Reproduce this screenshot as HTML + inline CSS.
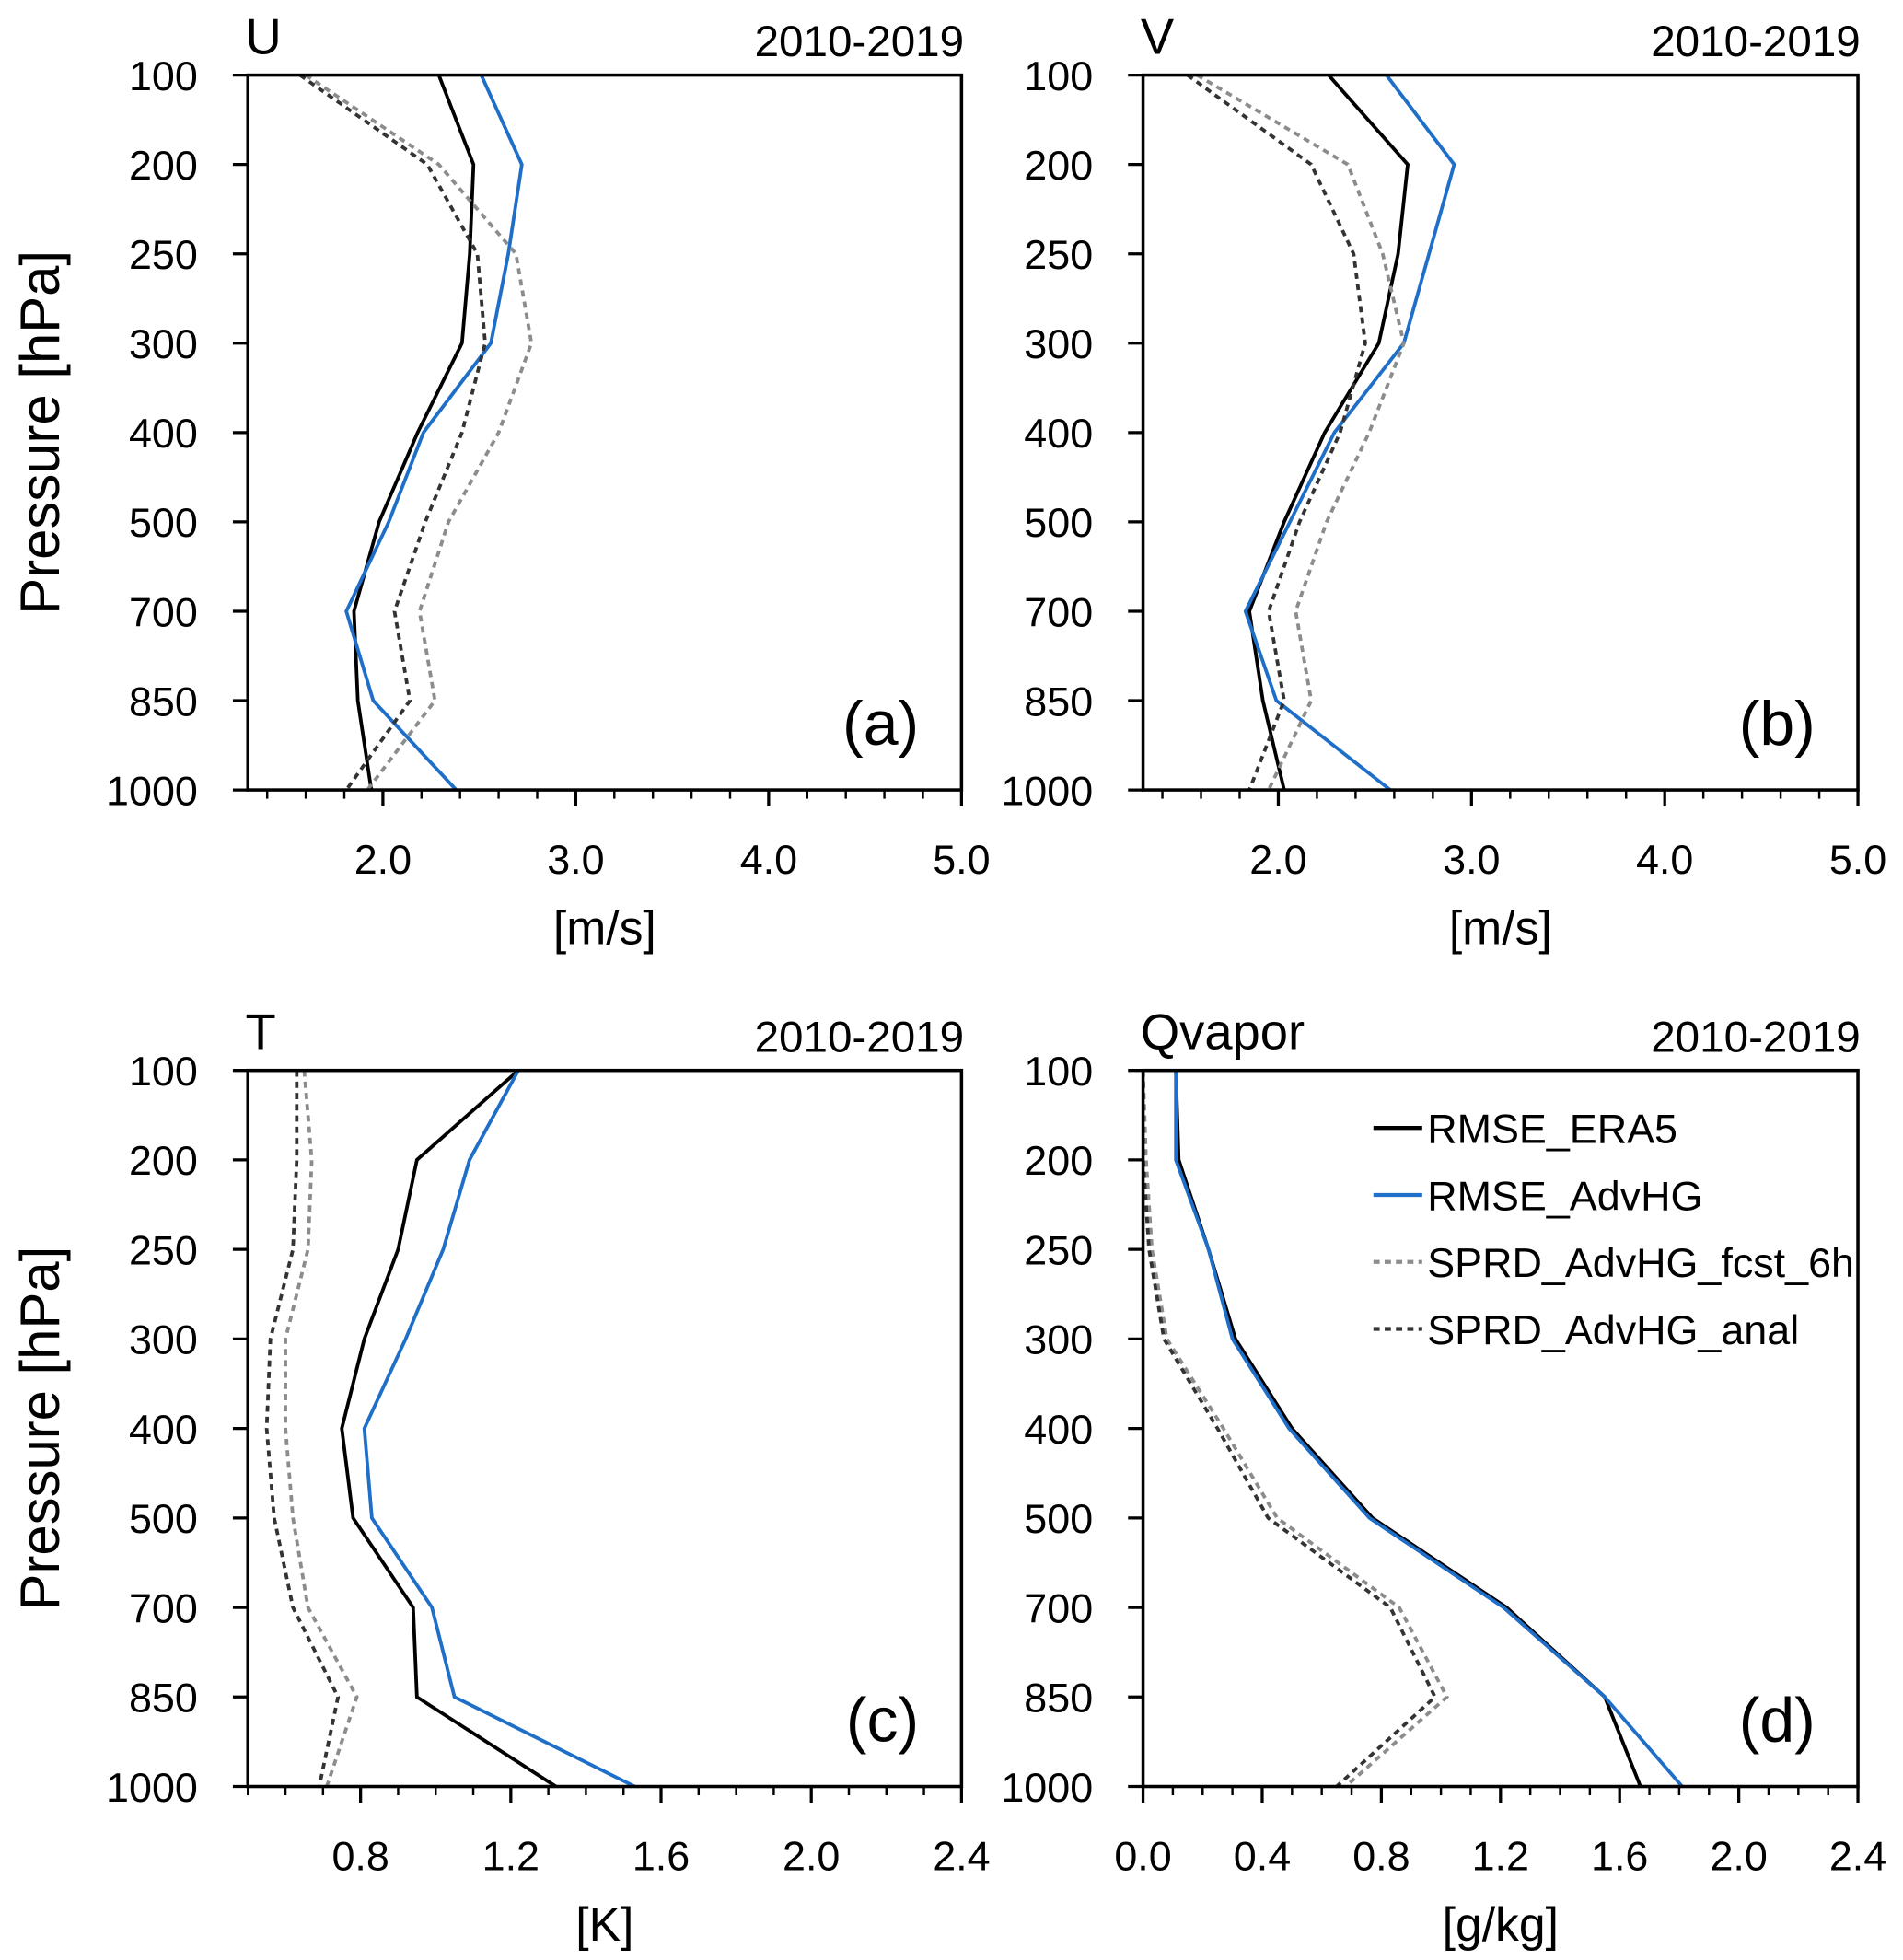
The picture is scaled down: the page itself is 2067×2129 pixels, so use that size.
<!DOCTYPE html>
<html><head><meta charset="utf-8">
<style>
html,body{margin:0;padding:0;background:#fff;}
svg{display:block;font-family:"Liberation Sans",sans-serif;}
</style></head>
<body>
<svg id="fig" width="2067" height="2129" viewBox="0 0 1520 1565.6" preserveAspectRatio="none" xmlns="http://www.w3.org/2000/svg"></svg>
<script>
const levels = [100,200,250,300,400,500,700,850,1000];
const seriesNames = ["RMSE_ERA5","RMSE_AdvHG","SPRD_AdvHG_fcst_6h","SPRD_AdvHG_anal"];
const uEra5 = [2.29,2.47,2.45,2.41,2.18,1.98,1.85,1.87,1.94];
const uAdv  = [2.51,2.72,2.65,2.56,2.21,2.03,1.81,1.95,2.38];
const uFcst = [1.60,2.29,2.69,2.77,2.60,2.34,2.19,2.27,1.92];
const uAnal = [1.57,2.23,2.49,2.53,2.41,2.22,2.06,2.14,1.81];
const vEra5 = [2.26,2.67,2.62,2.52,2.24,2.03,1.85,1.92,2.03];
const vAdv  = [2.56,2.91,2.78,2.65,2.29,2.06,1.83,1.99,2.58];
const vFcst = [1.58,2.36,2.54,2.65,2.47,2.25,2.09,2.17,1.95];
const vAnal = [1.53,2.17,2.39,2.45,2.32,2.11,1.95,2.03,1.85];
const tEra5 = [1.22,0.95,0.90,0.81,0.75,0.78,0.94,0.95,1.32];
const tAdv  = [1.22,1.09,1.02,0.92,0.81,0.83,0.99,1.05,1.53];
const tFcst = [0.65,0.67,0.66,0.60,0.60,0.62,0.66,0.79,0.71];
const tAnal = [0.63,0.63,0.62,0.56,0.55,0.57,0.62,0.74,0.69];
const qEra5 = [0.11,0.12,0.22,0.31,0.50,0.77,1.22,1.55,1.67];
const qAdv  = [0.11,0.11,0.22,0.30,0.49,0.76,1.21,1.55,1.81];
const qFcst = [0.00,0.01,0.03,0.08,0.27,0.45,0.86,1.02,0.68];
const qAnal = [0.00,0.00,0.02,0.07,0.25,0.42,0.83,0.98,0.65];
const windTicks = [2.0,3.0,4.0,5.0];
const windTickLabels = ["2.0","3.0","4.0","5.0"];
const tTicks = [0.8,1.2,1.6,2.0,2.4];
const tTickLabels = ["0.8","1.2","1.6","2.0","2.4"];
const qTicks = [0.0,0.4,0.8,1.2,1.6,2.0,2.4];
const qTickLabels = ["0.0","0.4","0.8","1.2","1.6","2.0","2.4"];

const NS="http://www.w3.org/2000/svg";
const svg=document.getElementById('fig');
function el(tag,attrs,parent,txt){const e=document.createElementNS(NS,tag);for(const k in attrs)e.setAttribute(k,attrs[k]);if(txt!==undefined)e.textContent=txt;(parent||svg).appendChild(e);return e;}

const styles=[
 {stroke:"#000",dash:"none",w:2.8},
 {stroke:"#1f6fc8",dash:"none",w:2.8},
 {stroke:"#8c8c8c",dash:"5,4",w:2.8},
 {stroke:"#333",dash:"5,4",w:2.8}];

function panel(cfg){
 const g=el('g',{});
 
 
 const L=cfg.x0,R=cfg.x1,T=cfg.y0,B=cfg.y1;
 const xs=v=>L+(v-cfg.xmin)/(cfg.xmax-cfg.xmin)*(R-L);
 const ys=i=>T+i*(B-T)/(levels.length-1);
 const cp=el('clipPath',{id:'clip'+cfg.id},g);
 el('rect',{x:L,y:T,width:R-L,height:B-T},cp);
 cfg.series.forEach((arr,si)=>{
  const pts=arr.map((v,i)=>xs(v).toFixed(1)+','+ys(i).toFixed(1)).join(' ');
  const pl=el('polyline',{points:pts,fill:'none',stroke:styles[si].stroke,'stroke-width':styles[si].w,'stroke-dasharray':styles[si].dash,'clip-path':'url(#clip'+cfg.id+')'},g);
  
  
 });
 const fr=el('rect',{x:L,y:T,width:R-L,height:B-T,fill:'none',stroke:'#000','stroke-width':2.6},g);
 
 
 levels.forEach((lv,i)=>{
  el('line',{x1:L-12,x2:L,y1:ys(i),y2:ys(i),stroke:'#000','stroke-width':2.4},g);
  const t=el('text',{x:L-40,y:ys(i)+12,'text-anchor':'end','font-size':33},g,String(lv));
  
  
 });
 for(let v=Math.ceil(cfg.xmin/cfg.minor-1e-6)*cfg.minor;v<=cfg.xmax+1e-6;v+=cfg.minor){
  el('line',{x1:xs(v),x2:xs(v),y1:B,y2:B+7,stroke:'#000','stroke-width':1.8},g);
 }
 cfg.ticks.forEach((v,i)=>{
  el('line',{x1:xs(v),x2:xs(v),y1:B,y2:B+13,stroke:'#000','stroke-width':2.4},g);
  const t=el('text',{x:xs(v),y:B+67,'text-anchor':'middle','font-size':33},g,cfg.tickLabels[i]);
  
  
 });
 const xt=el('text',{x:(L+R)/2,y:B+123,'text-anchor':'middle','font-size':38},g,cfg.xlabel);
 
 
 const tl=el('text',{x:L-2,y:T-17,'font-size':40},g,cfg.title);
 
 
 const pr=el('text',{x:R+2,y:T-15,'text-anchor':'end','font-size':35},g,'2010-2019');
 
 
 const pl=el('text',{x:R-34,y:B-36,'text-anchor':'end','font-size':50},g,cfg.tag);
 
 
 if(cfg.ylabel){
  const yl=el('text',{x:0,y:0,'text-anchor':'middle','font-size':44,transform:'translate(47,'+((T+B)/2)+') rotate(-90)'},g,'Pressure [hPa]');
  
  
 }
 if(cfg.legend){
  const lg=el('g',{},g);
  
  
  seriesNames.forEach((n,i)=>{
   const y=901+i*53.5;
   const e=el('g',{},lg);
   
   
   el('line',{x1:1097,x2:1136,y1:y,y2:y,stroke:styles[i].stroke,'stroke-width':3.2,'stroke-dasharray':styles[i].dash},e);
   el('text',{x:1140,y:y+12,'font-size':33},e,n);
  });
 }
}
panel({id:'a',x0:198,x1:768,y0:60,y1:631,xmin:1.3,xmax:5.0,minor:0.2,ticks:windTicks,tickLabels:windTickLabels,xlabel:'[m/s]',title:'U',tag:'(a)',ylabel:true,series:[uEra5,uAdv,uFcst,uAnal]});
panel({id:'b',x0:913,x1:1484,y0:60,y1:631,xmin:1.3,xmax:5.0,minor:0.2,ticks:windTicks,tickLabels:windTickLabels,xlabel:'[m/s]',title:'V',tag:'(b)',series:[vEra5,vAdv,vFcst,vAnal]});
panel({id:'c',x0:198,x1:768,y0:855,y1:1427,xmin:0.5,xmax:2.4,minor:0.1,ticks:tTicks,tickLabels:tTickLabels,xlabel:'[K]',title:'T',tag:'(c)',ylabel:true,series:[tEra5,tAdv,tFcst,tAnal]});
panel({id:'d',x0:913,x1:1484,y0:855,y1:1427,xmin:0,xmax:2.4,minor:0.1,ticks:qTicks,tickLabels:qTickLabels,xlabel:'[g/kg]',title:'Qvapor',tag:'(d)',legend:true,series:[qEra5,qAdv,qFcst,qAnal]});
</script>
</body></html>
